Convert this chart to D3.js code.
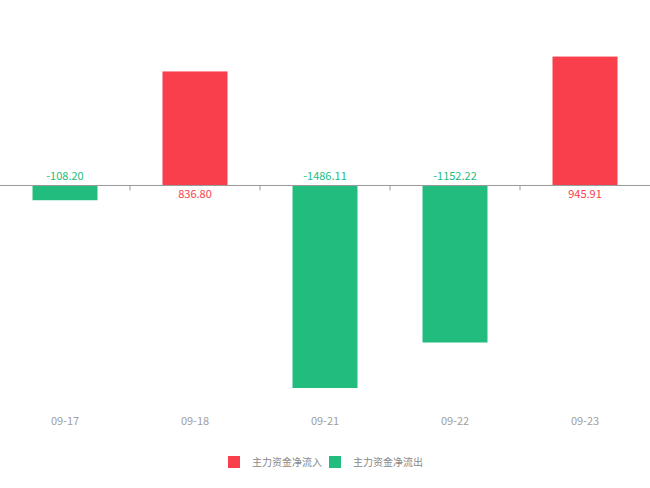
<!DOCTYPE html>
<html>
<head>
<meta charset="utf-8">
<script src="https://cdn.jsdelivr.net/npm/d3@7"></script>
<style>
  body { margin: 0; background: #fff; }
  svg { display: block; }
</style>
</head>
<body>
<svg id="chart" width="650" height="488"></svg>
<script>
const dates = ["09-17", "09-18", "09-21", "09-22", "09-23"];
const netFlow = [-108.20, 836.80, -1486.11, -1152.22, 945.91];
const seriesNames = ["主力资金净流入", "主力资金净流出"];

const RED = "#f93e4c";
const GREEN = "#22bd7e";
const FONT = "'Noto Sans CJK SC', 'Noto Sans', sans-serif";

const svg = d3.select("#chart");

const x = d3.scaleBand().domain(dates).range([0, 650]).paddingInner(0).paddingOuter(0);
const y = d3.scaleLinear().domain([-1500, 1000]).range([389.9, 49.2]);

// bars
svg.append("g")
  .selectAll("rect")
  .data(netFlow)
  .join("rect")
  .attr("x", (d, i) => x(dates[i]) + x.bandwidth() * 0.25)
  .attr("width", x.bandwidth() * 0.5)
  .attr("y", d => y(Math.max(0, d)))
  .attr("height", d => Math.abs(y(d) - y(0)))
  .attr("fill", d => d >= 0 ? RED : GREEN);

// value labels: opposite side of the zero line
svg.append("g")
  .selectAll("text")
  .data(netFlow)
  .join("text")
  .attr("x", (d, i) => x(dates[i]) + x.bandwidth() / 2)
  .attr("y", d => d >= 0 ? y(0) + 13 : y(0) - 5)
  .attr("text-anchor", "middle")
  .style("font-family", FONT)
  .style("font-size", "11px")
  .style("fill", d => d >= 0 ? RED : GREEN)
  .text(d => d.toFixed(2));

// zero axis
const axis = svg.append("g").attr("transform", `translate(0,${y(0)})`);
axis.append("line")
  .attr("x1", 0).attr("x2", 650)
  .attr("stroke", "#999").attr("stroke-width", 1);
axis.selectAll("line.tick")
  .data(dates.slice(1))
  .join("line")
  .attr("class", "tick")
  .attr("x1", d => x(d)).attr("x2", d => x(d))
  .attr("y1", 0).attr("y2", 5)
  .attr("stroke", "#999");

// category labels
svg.append("g")
  .selectAll("text")
  .data(dates)
  .join("text")
  .attr("x", d => x(d) + x.bandwidth() / 2)
  .attr("y", 425)
  .attr("text-anchor", "middle")
  .style("font-family", FONT)
  .style("font-size", "11px")
  .style("fill", "#a0a0a0")
  .text(d => d);

// legend
const legend = svg.append("g");
const legendX = [228, 329];
[RED, GREEN].forEach((c, i) => {
  legend.append("rect")
    .attr("x", legendX[i]).attr("y", 456)
    .attr("width", 12).attr("height", 12)
    .attr("fill", c);
  legend.append("text")
    .attr("x", legendX[i] + 24).attr("y", 466)
    .style("font-family", FONT)
    .style("font-size", "10px")
    .style("fill", "#888")
    .text(seriesNames[i]);
});
</script>
</body>
</html>
